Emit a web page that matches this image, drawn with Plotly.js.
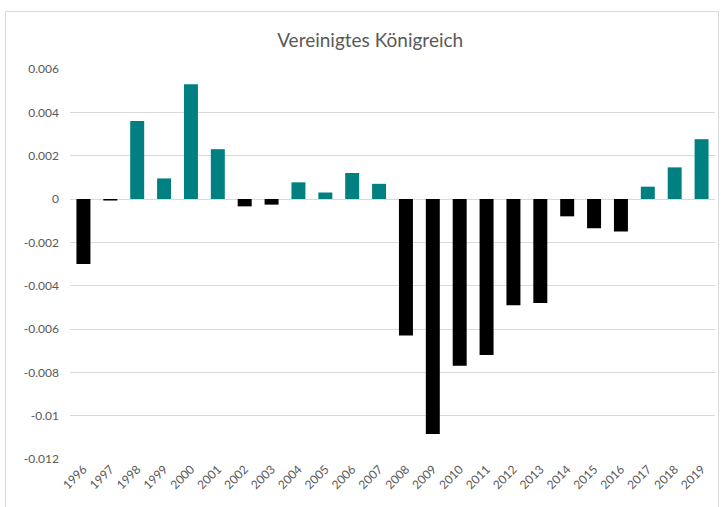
<!DOCTYPE html>
<html>
<head>
<meta charset="utf-8">
<script src="https://cdn.plot.ly/plotly-3.0.1.min.js"></script>
<style>
html,body{margin:0;padding:0;background:#fff;}
#wrap{position:relative;width:723px;height:507px;overflow:hidden;}
#frame{position:absolute;left:5px;top:11px;width:714px;height:520px;border:1px solid #d9d9d9;box-sizing:border-box;pointer-events:none;}
#chart{position:absolute;left:0;top:0;width:723px;height:507px;}
</style>
</head>
<body>
<div id="wrap">
<div id="chart"></div>
<div id="frame"></div>
</div>
<script>
const years = ["1996","1997","1998","1999","2000","2001","2002","2003","2004","2005","2006","2007",
               "2008","2009","2010","2011","2012","2013","2014","2015","2016","2017","2018","2019"];
const values = [-0.0030, -0.00007, 0.0036, 0.00095, 0.0053, 0.0023, -0.00034, -0.00026, 0.00077, 0.0003, 0.0012, 0.0007,
                -0.0063, -0.01085, -0.0077, -0.0072, -0.0049, -0.0048, -0.0008, -0.00135, -0.0015, 0.00057, 0.00146, 0.00276];
const yTickVals = [0.006, 0.004, 0.002, 0, -0.002, -0.004, -0.006, -0.008, -0.01, -0.012];
const yTickText = ["0.006", "0.004", "0.002", "0", "-0.002", "-0.004", "-0.006", "-0.008", "-0.01", "-0.012"];
const chartTitle = "Vereinigtes Königreich";

const posColor = "#008080";
const negColor = "#000000";
const colors = values.map(v => v >= 0 ? posColor : negColor);

const trace = {
  type: "bar",
  x: years,
  y: values,
  marker: {color: colors, line: {width: 0}},
  hoverinfo: "x+y"
};

const layout = {
  width: 723,
  height: 507,
  margin: {l: 70, r: 8, t: 69, b: 48},
  paper_bgcolor: "#ffffff",
  plot_bgcolor: "#ffffff",
  bargap: 0.48,
  showlegend: false,
  font: {family: "Lato, 'Open Sans', sans-serif", color: "#595959", size: 12},
  title: {
    text: chartTitle,
    font: {family: "Lato, 'Open Sans', sans-serif", size: 19, color: "#595959"},
    x: 0.512, xanchor: "center",
    xref: "container",
    y: 0.921, yanchor: "middle",
    yref: "container"
  },
  xaxis: {
    type: "category",
    tickangle: -45,
    showgrid: false,
    showline: false,
    zeroline: false,
    ticks: "",
    tickfont: {size: 12, color: "#595959"},
    fixedrange: true
  },
  yaxis: {
    range: [-0.012, 0.006],
    tickvals: yTickVals,
    ticktext: yTickText,
    showgrid: true,
    gridcolor: "#d9d9d9",
    gridwidth: 1,
    zeroline: true,
    zerolinecolor: "#d9d9d9",
    zerolinewidth: 1,
    showline: false,
    ticks: "",
    ticklabelstandoff: 10,
    tickfont: {size: 12, color: "#595959"},
    fixedrange: true
  }
};

Plotly.newPlot("chart", [trace], layout, {displayModeBar: false, staticPlot: true});
</script>
</body>
</html>
